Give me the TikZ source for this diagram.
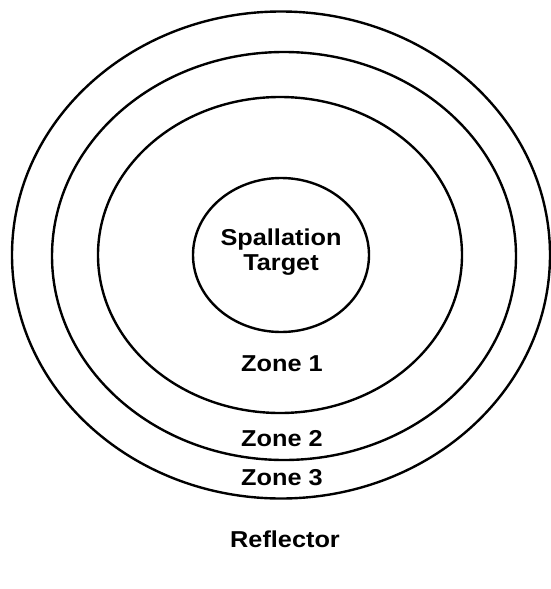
\documentclass[tikz,border=0pt]{standalone}
\usepackage{fontspec}
\setmainfont{Liberation Sans}[FakeStretch=1.1]
\usepackage{tikz}

\begin{document}
\begin{tikzpicture}[x=0.5pt, y=-0.5pt, line width=1.2pt,
	lbl/.style={font=\bfseries\fontsize{11.5}{12.3}\selectfont, align=center}]
			\useasboundingbox (0,0) rectangle (551,589);
			\coordinate (c) at (281,255);
			\draw (c) ellipse [x radius=269, y radius=243.5];
			\draw (284,256) ellipse [x radius=232, y radius=204];
			\draw (280,255) ellipse [x radius=182, y radius=158];
			\draw (c) ellipse [x radius=88, y radius=77];
			\node[lbl] (target) at (281,252) {Spallation\\Target};
			\node[lbl] (zone1) at (282,364) {Zone 1};
			\node[lbl] (zone2) at (282,439) {Zone 2};
			\node[lbl] (zone3) at (282,478) {Zone 3};
			\node[lbl] (refl) at (285,539) {Reflector};
			\end{tikzpicture}
\end{document}
